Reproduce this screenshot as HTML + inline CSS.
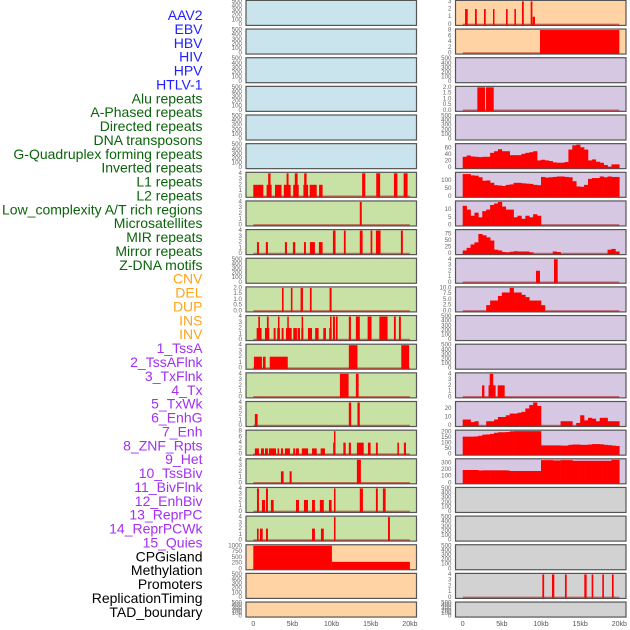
<!DOCTYPE html>
<html><head><meta charset="utf-8"><style>
html,body{margin:0;padding:0;background:#fff;}
svg{display:block;font-family:"Liberation Sans",sans-serif;}
</style></head><body>
<svg id="chart" width="630" height="630" viewBox="0 0 630 630" xmlns="http://www.w3.org/2000/svg"></svg>
<script>
// ---------- data ----------
const trackLabels = ["AAV2","EBV","HBV","HIV","HPV","HTLV-1","Alu repeats","A-Phased repeats","Directed repeats","DNA transposons","G-Quadruplex forming repeats","Inverted repeats","L1 repeats","L2 repeats","Low_complexity A/T rich regions","Microsatellites","MIR repeats","Mirror repeats","Z-DNA motifs","CNV","DEL","DUP","INS","INV","1_TssA","2_TssAFlnk","3_TxFlnk","4_Tx","5_TxWk","6_EnhG","7_Enh","8_ZNF_Rpts","9_Het","10_TssBiv","11_BivFlnk","12_EnhBiv","13_ReprPC","14_ReprPCWk","15_Quies","CPGisland","Methylation","Promoters","ReplicationTiming","TAD_boundary"];
const labelGroups = ["virus","virus","virus","virus","virus","virus","repeat","repeat","repeat","repeat","repeat","repeat","repeat","repeat","repeat","repeat","repeat","repeat","repeat","sv","sv","sv","sv","sv","chrom","chrom","chrom","chrom","chrom","chrom","chrom","chrom","chrom","chrom","chrom","chrom","chrom","chrom","chrom","other","other","other","other","other"];
const xTicksKb = [0,5,10,15,20];
const xTickLabels = ["0","5kb","10kb","15kb","20kb"];
const ticks500 = [0,100,200,300,400,500];
const ticks4 = [0,1,2,3,4];
const ticks2f = [0,0.5,1,1.5,2];

// segments: [startKb, endKb, value]
const aluRepeats = [[0,1.28,2],[1.7,2.34,2],[1.9,2.2,4],[2.77,3.6,2],[3.9,4.77,2],[4.25,4.5,4],[5.1,5.8,2],[5.3,5.66,4],[6.4,7.0,2],[6.5,6.8,4],[7.2,8.1,2],[8.4,8.85,2],[13.9,14.3,4],[15.7,16.2,4],[17.96,18.4,4],[19.2,19.7,4]];
const aPhasedRepeats = [[13.6,13.85,4]];
const directedRepeats = [[0.47,0.72,2],[1.6,1.87,2],[4.04,4.3,2],[5.06,5.36,2],[6.47,6.72,2],[7.23,7.87,2],[8.38,8.85,2],[10.17,10.5,4],[11.57,11.8,4],[13.6,13.96,4],[14.98,15.2,4],[15.66,16.25,4],[18.85,19.1,4]];
const gQuadruplex = [[3.66,3.87,2],[4.8,5.0,2],[6.04,6.34,2],[7.23,7.45,2],[9.74,10.0,2]];
const invertedRepeats = [[0.43,1.06,2],[0.64,0.85,4],[1.49,2.04,2],[1.74,1.96,4],[2.6,2.85,2],[3.06,3.4,2],[3.15,3.32,4],[3.62,3.87,2],[4.17,4.9,2],[4.34,4.5,4],[5.11,5.57,2],[5.66,5.96,2],[6.13,6.38,2],[6.17,6.3,4],[6.98,7.5,2],[7.9,8.34,2],[8.94,9.28,2],[9.7,10.0,2],[9.8,10.0,4],[10.17,10.43,4],[10.55,10.77,4],[12.2,12.47,4],[13.1,13.6,4],[14.6,15.1,4],[16.1,17.15,4],[17.96,18.2,4],[18.6,18.85,4]];
const l1Repeats = [[0.08,1.1,2],[1.23,1.57,2],[2.1,4.4,2],[12.2,13.3,4],[18.9,19.9,4]];
const l2Repeats = [[11.06,12.17,4],[13.1,13.45,4]];
const lowComplexity = [[0.2,0.55,2],[12.2,12.5,4],[13.3,13.6,4]];
const microsatellites = [[0.2,0.72,2],[0.98,1.36,2],[1.49,1.87,2],[2.0,2.9,2],[3.1,3.3,2],[3.53,3.8,2],[4.04,4.68,2],[5.1,5.36,2],[5.45,5.83,2],[6.2,7.0,2],[7.5,8.1,2],[8.6,9.15,2],[10.2,10.47,4],[10.3,10.47,8],[11.5,11.8,4],[12.2,12.47,4],[13.23,14.1,4],[14.64,14.98,4],[15.66,15.9,4],[18.4,18.6,4],[19.23,19.5,4]];
const mirRepeats = [[3.53,3.87,2],[4.64,4.9,2],[13.23,13.74,4]];
const mirrorRepeats = [[0.47,0.72,4],[1.1,1.5,2],[1.62,1.87,4],[2.25,2.6,2],[5.45,5.83,2],[6.47,6.98,2],[7.5,7.87,2],[8.5,9.0,2],[9.66,10.0,2],[10.3,10.5,4],[13.6,14.0,4],[15.66,15.9,4],[16.55,16.9,4]];
const zDnaMotifs = [[0.47,0.68,2],[0.85,1.2,2],[1.62,1.87,2],[7.5,7.87,2],[8.64,9.0,2],[10.3,10.5,4],[17.2,17.45,4]];
const cnvValues = [[0,10.04,1000],[10.04,20.0,300]];
const insValues = [[0.3,0.64,2],[1.57,1.8,2],[2.72,2.94,2],[3.87,4.04,2],[5.53,5.74,2],[6.6,6.8,2],[7.57,7.8,3],[8.68,8.9,3],[8.94,9.23,1]];
const invValues = [[9.87,20.0,8]];
const tssAFlnk = [[1.87,2.85,2],[2.98,3.96,2]];
const znfRpts = [[9.36,9.87,2],[11.66,12.13,4]];
const enhBiv = [[2.47,2.77,2],[3.3,4.2,2],[3.45,3.9,4],[4.47,5.36,2]];
const replicationTiming = [[10.17,10.4,4],[11.4,11.7,4],[13.06,13.28,4],[15.53,15.83,4],[16.47,16.68,4],[17.83,18.04,4],[19.06,19.28,4]];

// histograms: 40 bins of 0.5kb from 0kb
const txBins = [33,37,34,33,32,33,33,45,50,56,50,50,38,38,38,42,45,47,50,22,24,22,20,16,15,15,17,55,68,70,62,55,22,25,18,15,8,3,10,10];
const txWkBins = [140,140,132,130,120,98,100,85,70,68,65,72,75,85,85,82,80,78,72,70,122,118,120,122,125,125,122,120,95,62,60,72,110,115,115,125,120,125,122,122];
const enhGBins = [12.5,10,6,8,5,9,10,13,14,15,12,10,10,5,6,4,6,5,7,6,0,0,0,0,0,0,0,0,0,0,0,0,0,0,0,0,0,0,0,0];
const enhBins = [12,22,35,43,75,70,62,50,15,12,6,5,7,9,8,8,8,5,0,0,0,0,0,8,6,0,0,0,0,0,0,0,0,0,0,0,0,15,18,8];
const hetBins = [0,0,0,0,0,0,2.5,4.5,4.5,6.5,8,8,10,8,8,7,6,4.5,4.5,4.5,2.5,0,0,0,0,0,0,0,0,0,0,0,0,0,0,0,0,0,0,0];
const reprPCBins = [7,7,4,5,0,0,5,5,7,10,10,12,14,14,15,16,20,24,27,23,0,0,0,0,0,5,5,5,0,3,12,6,9,8,5,9,9,5,5,5];
const reprPCWkBins = [160,160,160,162,168,178,180,185,195,200,200,202,208,210,210,210,210,210,210,210,80,80,80,80,80,78,78,85,88,88,85,85,88,92,92,90,85,82,78,75];
const quiesBins = [195,195,195,195,188,190,190,190,190,190,190,188,180,180,180,180,180,180,180,180,345,345,345,340,340,345,345,345,335,335,335,335,335,335,335,335,335,335,350,350];

// ---------- layout ----------
const BG = {virus:"#c9e4ec", repeat:"#c8e1a5", sv:"#ffd3a3", chrom:"#d6c7e3", other:"#d2d2d2"};
const LABEL_COLOR = {virus:"#1f1fff", repeat:"#0a640a", sv:"#ffa41a", chrom:"#a42ff0", other:"#000"};
const COLS = [{x0:246, x1:416.5, kb0:253.3}, {x0:455.5, x1:626, kb0:462.7}];
const KBPX = 7.83;
const ROWSTEP = 28.65;

// track config: [labelIndex, col, row, ymax, ticks, segments, bins]
const tracks = [];
for (let i = 0; i < 44; i++) {
  const col = i < 22 ? 0 : 1, row = i < 22 ? i : i - 22;
  tracks.push({i, col, row, ymax:500, ticks:ticks500, seg:null, bins:null});
}
function setT(i, ymax, ticks, seg, bins){ Object.assign(tracks[i], {ymax, ticks, seg, bins}); }
setT(6,4,ticks4,aluRepeats);
setT(7,4,ticks4,aPhasedRepeats);
setT(8,4,ticks4,directedRepeats);
setT(10,2,ticks2f,gQuadruplex);
setT(11,4,ticks4,invertedRepeats);
setT(12,4,ticks4,l1Repeats);
setT(13,4,ticks4,l2Repeats);
setT(14,4,ticks4,lowComplexity);
setT(15,8,[0,2,4,6,8],microsatellites);
setT(16,4,ticks4,mirRepeats);
setT(17,4,ticks4,mirrorRepeats);
setT(18,4,ticks4,zDnaMotifs);
setT(19,1000,[0,250,500,750,1000],cnvValues);
setT(22,3,[0,1,2,3],insValues);
setT(23,8,[0,2,4,6,8],invValues);
setT(25,2,ticks2f,tssAFlnk);
setT(27,70,[0,20,40,60],null,txBins);
setT(28,145,[0,50,100],null,txWkBins);
setT(29,15,[0,5,10],null,enhGBins);
setT(30,88,[0,25,50,75],null,enhBins);
setT(31,4,ticks4,znfRpts);
setT(32,10,[0,2.5,5,7.5,10],null,hetBins);
setT(35,4,ticks4,enhBiv);
setT(36,27,[0,10,20],null,reprPCBins);
setT(37,210,[0,50,100,150,200],null,reprPCWkBins);
setT(38,350,[0,100,200,300],null,quiesBins);
setT(42,4,ticks4,replicationTiming);

const NS = "http://www.w3.org/2000/svg";
const svg = document.getElementById("chart");
function mk(tag, attrs, parent){ const e=document.createElementNS(NS,tag); for(const k in attrs) e.setAttribute(k,attrs[k]); (parent||svg).appendChild(e); return e; }

// labels
trackLabels.forEach((t, i) => {
  const e = mk("text", {x:202.5, y:15+i*13.88, "text-anchor":"end", "dominant-baseline":"central", "font-size":14, fill:LABEL_COLOR[labelGroups[i]]});
  e.textContent = t;
  
  
});

function fmt(v, ticks){ const dec = ticks.some(t=>t%1!==0) || ticks[ticks.length-1]<=2; if(ticks===ticks2f) return v.toFixed(1); if(dec) return v.toFixed(1); return String(v); }

tracks.forEach(t => {
  const c = COLS[t.col];
  const top = 0.4 + t.row*ROWSTEP;
  const h = t.row === 21 ? 15 : 25;
  const y0 = top + h - 1, y1 = top + 1;
  const yS = v => y0 - (v / t.ymax) * (y0 - y1);
  const xS = kb => c.kb0 + kb * KBPX;
  const g = mk("g", {});
  
  
  const bg = mk("rect", {x:c.x0, y:top, width:c.x1-c.x0, height:h, fill:BG[labelGroups[t.i]], stroke:"#555", "stroke-width":1.2}, g);
  
  
  // y ticks
  t.ticks.forEach(v => {
    const tx = mk("text", {x:c.x0-4, y:yS(v), "text-anchor":"end", "dominant-baseline":"central", "font-size":6.2, fill:"#666"}, g);
    tx.textContent = (t.ticks===ticks2f || t.ticks.some(x=>x%1!==0)) ? v.toFixed(1) : String(v);
    
    
  });
  if (t.seg || t.bins) {
    const bl = mk("line", {x1:xS(0), x2:xS(20), y1:y0, y2:y0, stroke:"rgba(170,0,0,0.5)", "stroke-width":1.6}, g);
    
    
  }
  if (t.seg) {
    t.seg.forEach(s => {
      const xa = xS(s[0]), xb = xS(s[1]);
      const w = Math.max(1.5, xb - xa);
      const r = mk("rect", {x:xa, y:yS(s[2]), width:w, height:y0 - yS(s[2]) + 0.5, fill:"#ff0000"}, g);
      
      
    });
  }
  if (t.bins) {
    t.bins.forEach((v, k) => {
      if (v <= 0) return;
      const xa = xS(k*0.5), xb = xS((k+1)*0.5);
      const r = mk("rect", {x:xa, y:yS(v), width:xb-xa+0.3, height:y0 - yS(v) + 0.5, fill:"#ff0000"}, g);
      
      
    });
  }
});

// x axes
COLS.forEach(c => {
  xTicksKb.forEach((kb, k) => {
    const tx = mk("text", {x:c.kb0 + kb*KBPX, y:626, "text-anchor":"middle", "font-size":7, fill:"#555"});
    tx.textContent = xTickLabels[k];
    
    
  });
});
</script>
</body></html>
